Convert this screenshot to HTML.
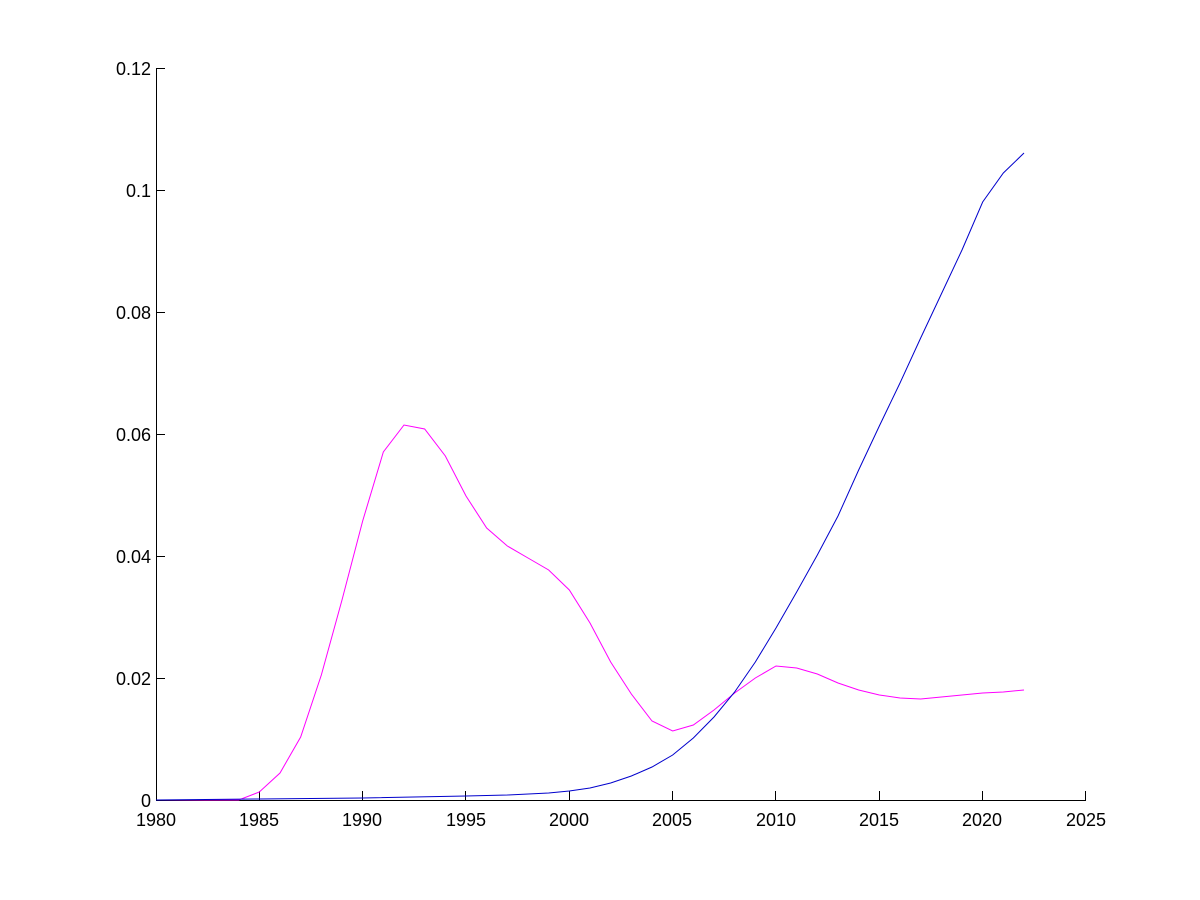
<!DOCTYPE html>
<html><head><style>body{margin:0;background:#fff}svg{display:block}text{font-family:"Liberation Sans",Arial,sans-serif;font-size:18px}</style></head>
<body>
<svg width="1200" height="900" viewBox="0 0 1200 900">
<rect width="1200" height="900" fill="#fff"/>
<g stroke="#000" stroke-width="1" fill="none" shape-rendering="crispEdges">
<line x1="156.5" y1="68" x2="156.5" y2="800.5"/>
<line x1="156" y1="800.5" x2="1086" y2="800.5"/>
<line x1="156" y1="68.5" x2="165" y2="68.5"/>
<line x1="156" y1="190.5" x2="165" y2="190.5"/>
<line x1="156" y1="312.5" x2="165" y2="312.5"/>
<line x1="156" y1="434.5" x2="165" y2="434.5"/>
<line x1="156" y1="556.5" x2="165" y2="556.5"/>
<line x1="156" y1="678.5" x2="165" y2="678.5"/>
<line x1="259.5" y1="791" x2="259.5" y2="800"/>
<line x1="362.5" y1="791" x2="362.5" y2="800"/>
<line x1="465.5" y1="791" x2="465.5" y2="800"/>
<line x1="569.5" y1="791" x2="569.5" y2="800"/>
<line x1="672.5" y1="791" x2="672.5" y2="800"/>
<line x1="775.5" y1="791" x2="775.5" y2="800"/>
<line x1="879.5" y1="791" x2="879.5" y2="800"/>
<line x1="982.5" y1="791" x2="982.5" y2="800"/>
<line x1="1085.5" y1="791" x2="1085.5" y2="800"/>
</g>
<g text-anchor="end">
<text x="151" y="75">0.12</text><text x="151" y="197">0.1</text><text x="151" y="319">0.08</text>
<text x="151" y="441">0.06</text><text x="151" y="563">0.04</text><text x="151" y="685">0.02</text><text x="151" y="807">0</text>
</g>
<g text-anchor="middle">
<text x="156" y="826">1980</text><text x="259" y="826">1985</text><text x="362" y="826">1990</text><text x="466" y="826">1995</text><text x="569" y="826">2000</text><text x="672" y="826">2005</text><text x="776" y="826">2010</text><text x="879" y="826">2015</text><text x="982" y="826">2020</text><text x="1086" y="826">2025</text>
</g>
<g transform="translate(156,0) scale(20.6667,1)" fill="none">
<polyline vector-effect="non-scaling-stroke" stroke="#ff00ff" stroke-width="1" points="0,800 1,800 2,800 3,800 4,800 5,792 6,773 7,737 8,675 9,600 10,521 11,452 12,425 13,429 14,456 15,496 16,528 17,546 18,558 19,570 20,590 21,623 22,662 23,694 24,721 25,731 26,725 27,710 28,693 29,678 30,666 31,668 32,674 33,683 34,690 35,695 36,698 37,699 38,697 39,695 40,693 41,692 42,690"/>
<polyline vector-effect="non-scaling-stroke" stroke="#0000cc" stroke-width="1" points="0,800 5,799 10,798 15,796 17,795 19,793 20,791 21,788 22,783 23,776 24,767 25,755 26,738 27,717 28,692 29,662 30,628 31,592 32,555 33,516 34,470 35,426 36,383 37,338 38,294 39,250 40,202 41,173 42,153"/>
</g>
</svg>
</body></html>
